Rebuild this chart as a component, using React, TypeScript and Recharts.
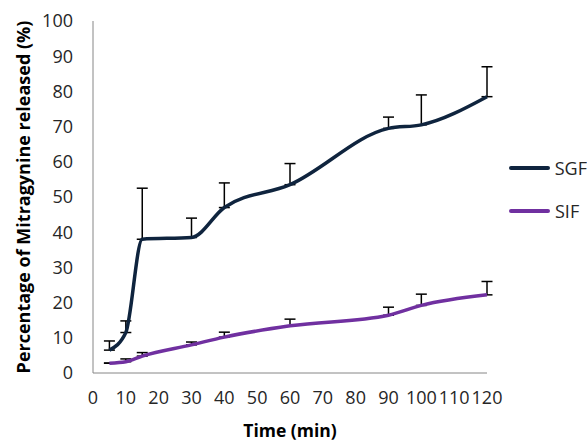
import { LineChart, Line, XAxis, YAxis, ErrorBar, Legend } from 'recharts';

// Release time points (min)
const times = [5, 10, 15, 30, 40, 60, 90, 100, 120];

// Percentage of Mitragynine released
const sgf = [6.5, 11.5, 38, 38.5, 47, 53.5, 69.5, 70.5, 78.5];
const sif = [2.8, 3.2, 4.8, 8, 10.2, 13.4, 16.4, 19.2, 22.2];

// upper error (SD) only
const sgfErr = [2.6, 3.3, 14.5, 5.5, 7, 6, 3.2, 8.5, 8.5];
const sifErr = [0, 0.8, 1, 0.8, 1.4, 1.9, 2.3, 3.2, 3.8];

const xTicks = [0, 10, 20, 30, 40, 50, 60, 70, 80, 90, 100, 110, 120];
const yTicks = [0, 10, 20, 30, 40, 50, 60, 70, 80, 90, 100];

const series = [
  { key: 'SGF', color: '#0F243E' },
  { key: 'SIF', color: '#7030A0' },
];

const data = times.map((t, i) => ({
  time: t,
  SGF: sgf[i],
  SIF: sif[i],
  sgfErr: [0, sgfErr[i]],
  sifErr: [0, sifErr[i]],
}));

const FONT = "'Open Sans', 'Noto Sans', sans-serif";

function LegendBox() {
  return (
    <div style={{ fontFamily: FONT }}>
      {series.map((s) => (
        <div key={s.key} style={{ display: 'flex', alignItems: 'center', height: 43 }}>
          <div style={{ width: 41, height: 4, background: s.color, borderRadius: 2 }} />
          <span style={{ marginLeft: 5, fontSize: 18, color: '#262626' }}>{s.key}</span>
        </div>
      ))}
    </div>
  );
}

export default function App() {
  return (
    <div style={{ position: 'absolute', left: 0, top: 0, width: 587, height: 441, background: '#fff' }}>
      <LineChart
        width={587}
        height={441}
        data={data}
        margin={{ top: 21, right: 100, bottom: 0, left: 0 }}
        style={{ fontFamily: FONT }}
      >
        <XAxis
          dataKey="time"
          type="number"
          domain={[0, 120]}
          ticks={xTicks}
          interval={0}
          height={68}
          stroke="#868686"
          tickLine={false}
          tickMargin={12}
          tick={{ fill: '#262626', fontSize: 18 }}
          label={{ value: 'Time (min)', position: 'insideBottom', offset: 4, fill: '#000', fontSize: 17.5, fontWeight: 'bold' }}
        />
        <YAxis
          type="number"
          domain={[0, 100]}
          ticks={yTicks}
          interval={0}
          width={93}
          stroke="#868686"
          tickLine={false}
          tickMargin={14}
          tick={{ fill: '#262626', fontSize: 18 }}
          label={{
            value: 'Percentage of Mitragynine released (%)',
            angle: -90,
            position: 'center',
            dx: -23,
            fill: '#000',
            fontSize: 18,
            fontWeight: 'bold',
          }}
        />
        {/* hidden carriers for the error bars, so the curves sit on top */}
        <Line dataKey="SGF" stroke="none" dot={false} legendType="none" isAnimationActive={false}>
          <ErrorBar dataKey="sgfErr" direction="y" width={5.5} stroke="#000" strokeWidth={1.5} />
        </Line>
        <Line dataKey="SIF" stroke="none" dot={false} legendType="none" isAnimationActive={false}>
          <ErrorBar dataKey="sifErr" direction="y" width={5.5} stroke="#000" strokeWidth={1.5} />
        </Line>
        {series.map((s) => (
          <Line
            key={s.key}
            type="monotone"
            dataKey={s.key}
            stroke={s.color}
            strokeWidth={3.5}
            dot={false}
            isAnimationActive={false}
          />
        ))}
        <Legend
          layout="vertical"
          align="center"
          verticalAlign="middle"
          content={() => <LegendBox />}
          wrapperStyle={{ left: 509, top: 146, width: 78 }}
        />
      </LineChart>
    </div>
  );
}
